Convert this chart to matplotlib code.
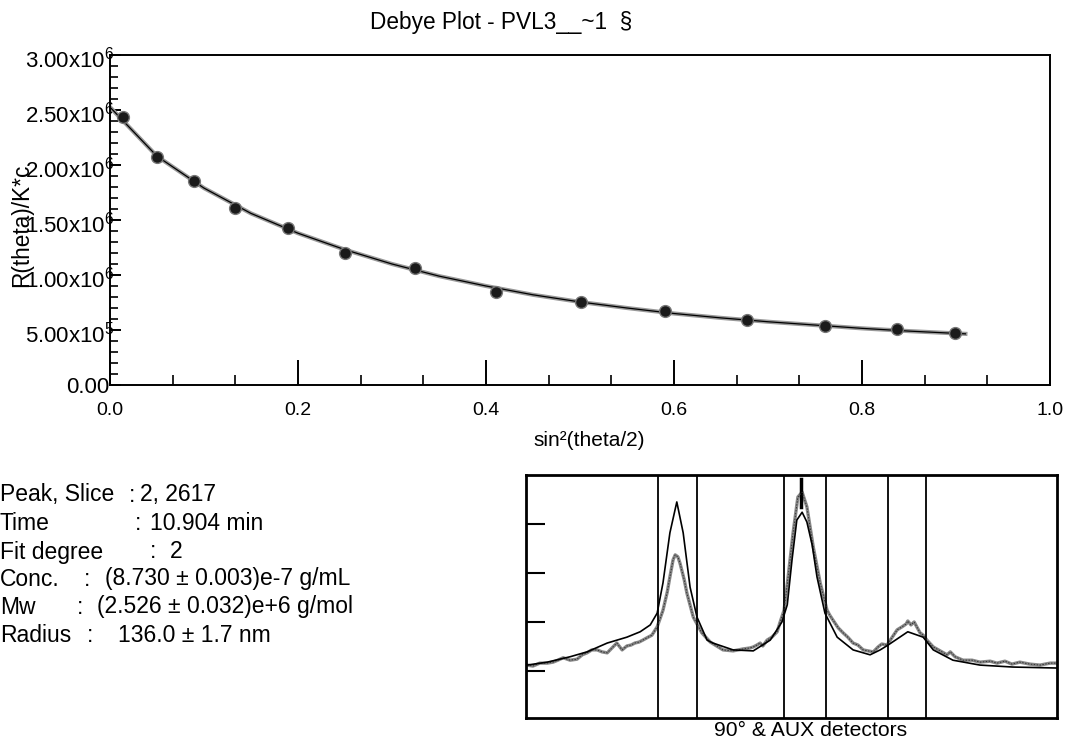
import matplotlib
matplotlib.use('Agg')
import matplotlib.pyplot as plt
import matplotlib.transforms as mtransforms
from matplotlib.ticker import MultipleLocator, FuncFormatter
import numpy as np

plt.rcParams['font.family'] = ['Liberation Sans', 'DejaVu Sans']
plt.rcParams['mathtext.fontset'] = 'custom'
plt.rcParams['mathtext.rm'] = 'Liberation Sans'
plt.rcParams['mathtext.default'] = 'regular'

# Debye plot data points (sin^2(theta/2), R(theta)/K*c)
sin2 = [0.014, 0.050, 0.089, 0.133, 0.189, 0.250, 0.324, 0.411, 0.501, 0.590, 0.678, 0.761, 0.837, 0.899]
rkc = [2.44e6, 2.077e6, 1.859e6, 1.607e6, 1.426e6, 1.196e6, 1.063e6, 0.842e6, 0.754e6, 0.669e6,
       0.587e6, 0.533e6, 0.509e6, 0.472e6]

# fit curve
fit_x = [0.0, 0.05, 0.1, 0.15, 0.2, 0.25, 0.3, 0.35, 0.4, 0.45, 0.5, 0.55, 0.6, 0.65, 0.7, 0.75, 0.8, 0.85, 0.91]
fit_y = [2.526e6, 2.08e6, 1.79e6, 1.56e6, 1.38e6, 1.23e6, 1.10e6, 0.99e6, 0.90e6, 0.82e6, 0.755e6,
         0.70e6, 0.65e6, 0.61e6, 0.575e6, 0.545e6, 0.515e6, 0.49e6, 0.465e6]

# y axis ticks
y_ticks = [0, 0.5e6, 1.0e6, 1.5e6, 2.0e6, 2.5e6, 3.0e6]

# chromatogram inset: smooth trace
trA_x = [0.2, 4.0, 8.3, 11.5, 15.3, 19.0, 21.5, 23.4, 24.7, 25.8, 27.1, 28.4, 29.6, 30.9, 32.2, 34.1,
         35.2, 39.0, 42.8, 46.0, 48.2, 49.2, 50.1, 51.0, 52.0, 52.9, 53.9, 54.8, 56.3, 58.6, 61.6,
         64.8, 66.7, 68.2, 71.9, 74.8, 76.7, 80.4, 85.5, 91.7, 100.0]
trA_y = [1.12, 1.18, 1.29, 1.39, 1.57, 1.69, 1.80, 1.94, 2.18, 2.80, 3.82, 4.45, 3.82, 2.71, 2.10, 1.63,
         1.57, 1.43, 1.41, 1.63, 2.00, 2.35, 3.27, 4.08, 4.24, 4.04, 3.57, 2.92, 2.18, 1.69, 1.43,
         1.33, 1.43, 1.53, 1.80, 1.69, 1.43, 1.22, 1.12, 1.08, 1.06]

# chromatogram inset: noisy trace
trB_x = [0.2, 1.3, 2.6, 4.0, 5.1, 6.0, 7.0, 8.3, 9.6, 10.6, 11.5, 12.4, 13.4, 14.3, 15.3, 16.2, 17.1,
         18.1, 19.0, 19.8, 20.5, 21.3, 22.0, 23.0, 23.7, 24.7, 25.8, 26.6, 27.1, 27.7, 28.1, 28.6,
         29.0, 29.8, 30.3, 31.5, 33.1, 34.7, 36.2, 37.1, 39.0, 40.9, 42.2, 42.8, 43.5, 44.1, 44.6,
         45.4, 46.3, 47.3, 47.8, 48.6, 49.3, 50.3, 51.2, 52.0, 52.9, 54.1, 55.4, 56.7, 57.2, 57.8,
         58.8, 59.7, 60.6, 61.6, 62.5, 63.5, 64.4, 65.4, 66.3, 67.0, 68.0, 68.6, 69.9, 70.8, 71.6,
         71.9, 72.5, 73.1, 73.6, 74.2, 74.8, 75.5, 76.7, 78.0, 79.3, 79.9, 80.8, 82.3, 84.0, 85.5,
         87.4, 88.7, 90.2, 91.5, 93.0, 94.9, 96.8, 98.7, 100.0]
trB_y = [1.12, 1.10, 1.16, 1.16, 1.18, 1.22, 1.27, 1.22, 1.24, 1.33, 1.37, 1.43, 1.43, 1.39, 1.37, 1.47, 1.57,
         1.43, 1.51, 1.53, 1.57, 1.59, 1.63, 1.69, 1.73, 1.90, 2.24, 2.61, 2.92, 3.27, 3.37, 3.33,
         3.20, 2.86, 2.59, 2.10, 1.78, 1.59, 1.49, 1.43, 1.41, 1.45, 1.47, 1.49, 1.53, 1.57, 1.51,
         1.63, 1.69, 1.80, 1.98, 2.24, 2.86, 3.82, 4.55, 4.65, 4.35, 3.53, 2.80, 2.24, 2.14, 2.04,
         1.88, 1.78, 1.69, 1.57, 1.53, 1.43, 1.41, 1.39, 1.49, 1.55, 1.53, 1.63, 1.84, 1.90, 1.96,
         2.02, 1.94, 2.00, 1.90, 1.78, 1.73, 1.63, 1.49, 1.41, 1.33, 1.39, 1.29, 1.22, 1.22, 1.18,
         1.20, 1.16, 1.20, 1.14, 1.18, 1.14, 1.12, 1.16, 1.16]

# slice limits of the peaks
slice_lines = [24.9, 32.2, 48.6, 56.5, 68.2, 75.3]
peak_mark_x = 51.8
peak_mark_y = [4.35, 4.92]

info_labels = ['Peak, Slice', 'Time', 'Fit degree', 'Conc.', 'Mw', 'Radius']
info_values = ['2, 2617', '10.904 min', '2', '(8.730 \u00b1 0.003)e-7 g/mL',
               '(2.526 \u00b1 0.032)e+6 g/mol', '136.0 \u00b1 1.7 nm']

W, H = 1066, 738
fig = plt.figure(figsize=(W/100, H/100), dpi=100)

def fx(x):
    return x/W
def fy(y):
    return 1 - y/H

# ---- main debye plot
ax = fig.add_axes([fx(110), fy(385), 940/W, 330/H])
ax.plot(fit_x, fit_y, color='#999999', lw=3, zorder=2)
ax.plot(fit_x, fit_y, color='black', lw=0.9, zorder=3)
ax.plot(sin2, rkc, 'o', ms=8.5, mfc='#1a1a1a', mec='#777777', mew=1, zorder=4)
ax.set_xlim(0, 1)
ax.set_ylim(0, 3e6)
for s in ax.spines.values():
    s.set_linewidth(1.4)

ax.xaxis.set_major_locator(MultipleLocator(0.2))
ax.xaxis.set_minor_locator(MultipleLocator(0.2/3))
ax.set_yticks(y_ticks)
ax.yaxis.set_minor_locator(MultipleLocator(1e5))

def yfmt(v, pos):
    if v < 1:
        return '0.00'
    e = int(np.floor(np.log10(v)))
    return '%.2fx10$^{%d}$' % (v/10**e, e)

ax.yaxis.set_major_formatter(FuncFormatter(yfmt))
ax.xaxis.set_major_formatter(FuncFormatter(lambda v, p: '%.1f' % v))
ax.tick_params(axis='x', which='major', direction='in', length=18, width=1.4, labelsize=14, pad=12)
ax.tick_params(axis='x', which='minor', direction='in', length=7, width=1.2)
ax.tick_params(axis='y', which='major', direction='in', length=8, width=1.4, labelsize=16, pad=-3)
ax.tick_params(axis='y', which='minor', direction='in', length=6, width=1.2)
# small nudges of the tick labels, as in the original
for i, t in enumerate(ax.yaxis.get_major_ticks()):
    if i == 0:
        dx, dy = -5, 0
    else:
        dx, dy = 0, -2
    shift = mtransforms.ScaledTranslation(dx/100, dy/100, fig.dpi_scale_trans)
    t.label1.set_transform(t.label1.get_transform() + shift)

fig.text(fx(501), fy(22), 'Debye Plot - PVL3__~1  \u00a7', ha='center', va='center', fontsize=16.3)
fig.text(fx(589), fy(440), 'sin\u00b2(theta/2)', ha='center', va='center', fontsize=15)
fig.text(fx(22), fy(225), 'R(theta)/K*c', ha='center', va='center', rotation=90, fontsize=16.3)

# ---- info text
colon_x = [129, 135, 150, 84, 77, 87]
value_x = [140, 150, 170, 105, 97, 118]
line_y = [495, 523, 552, 579, 607, 635]
for lab, val, cx, vx, ly in zip(info_labels, info_values, colon_x, value_x, line_y):
    fig.text(0, fy(ly), lab, ha='left', va='center', fontsize=16.5)
    fig.text(fx(cx), fy(ly), ':', ha='left', va='center', fontsize=16.5)
    fig.text(fx(vx), fy(ly), val, ha='left', va='center', fontsize=16.5)

# ---- chromatogram inset
ax2 = fig.add_axes([fx(526), fy(718), 531/W, 243/H])
ax2.plot(trB_x, trB_y, color='#888888', lw=2.4, zorder=2)
ax2.plot(trB_x, trB_y, color='#333333', lw=0.7, ls=(0, (1.5, 1.5)), zorder=3)
ax2.plot(trA_x, trA_y, color='black', lw=1.2, zorder=4)
for xv in slice_lines:
    ax2.axvline(xv, color='black', lw=1.3)
ax2.plot([peak_mark_x, peak_mark_x], peak_mark_y, color='black', lw=2.5)
ax2.set_xlim(0, 100)
ax2.set_ylim(0.04, 5.0)
ax2.set_xticks([])
ax2.set_yticks([1, 2, 3, 4])
ax2.tick_params(axis='y', direction='in', length=14, width=1.5, labelleft=False)
for s in ax2.spines.values():
    s.set_linewidth(2)
fig.text(fx(811), fy(730), '90\u00b0 & AUX detectors', ha='center', va='center', fontsize=15.2)

fig.savefig('out.png', dpi=100)
